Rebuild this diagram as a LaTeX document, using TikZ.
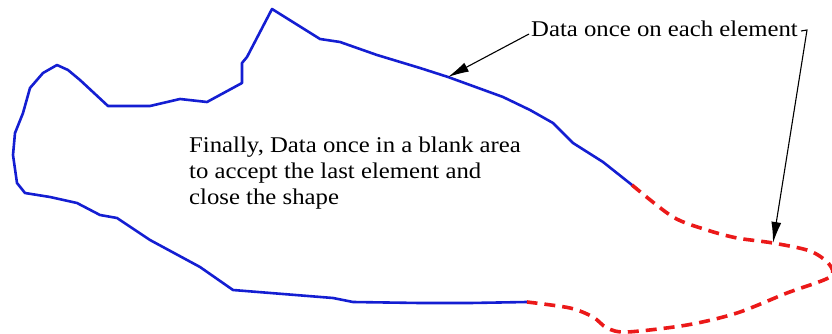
\documentclass[tikz,border=0pt]{standalone}
\usepackage{fontspec}
\newfontfamily\lblfont[FakeStretch=1.1]{Liberation Serif}
\usetikzlibrary{arrows.meta}
\definecolor{ShapeBlue}{RGB}{20,30,210}
\definecolor{ShapeRed}{RGB}{235,25,25}
\tikzset{
  >={Latex[length=21pt,width=10pt]},
  % boundary already digitized
  outline/.style={ShapeBlue,line width=2.6pt,line join=round,line cap=round},
  % last element, closes the shape
  closing/.style={ShapeRed,line width=3.6pt,dash pattern=on 11pt off 7pt},
  % leader lines
  callout/.style={->,black,line width=1.1pt},
  note/.style={font=\lblfont\fontsize{22.5}{26}\selectfont,inner sep=0pt}
}
\begin{document}
\begin{tikzpicture}[x=1pt,y=-1pt]
  \useasboundingbox (0,0) rectangle (832,334);
  % digitized boundary
  \draw[outline] (527,302) -- (470,303) -- (420,303) -- (353,302) -- (333,298)
    -- (233,290) -- (200,267) -- (150,240) -- (117,218) -- (100,215) -- (77,203)
    -- (50,197) -- (25,193) -- (17,183) -- (13,155) -- (15,133) -- (23,113)
    -- (30,88) -- (43,73) -- (57,65) -- (68,70) -- (80,80) -- (108,106)
    -- (150,106) -- (180,99) -- (207,102) -- (242,83) -- (242,63) -- (247,57)
    -- (272,9) -- (320,39) -- (340,42) -- (377,55) -- (420,68) -- (448,77)
    -- (503,97) -- (530,110) -- (553,123) -- (573,143) -- (603,162) -- (632,185);
  % closing element
  \draw[closing] plot[smooth,tension=0.5] coordinates {(632,185) (673,217) (707,230)
    (737,238) (773,243) (810,251) (829,264) (830,277) (787,293) (737,313)
    (687,325) (627,332) (607,328) (593,317) (570,308) (527,302)};
  \node[note,anchor=north west,align=left] (final) at (189,136.5)
    {Finally, Data once in a blank area\\to accept the last element and\\close the shape};
  \node[note,anchor=base west] (each) at (531,37) {Data once on each element};
  \coordinate (tip1) at (448,77);
  \coordinate (tip2) at (773,243);
  \draw[callout] (each.base west) ++(-2,-3) -- (tip1);
  \draw[callout] (each.base east) ++(3,-6) -- ++(6,-1) -- (tip2);
\end{tikzpicture}
\end{document}
